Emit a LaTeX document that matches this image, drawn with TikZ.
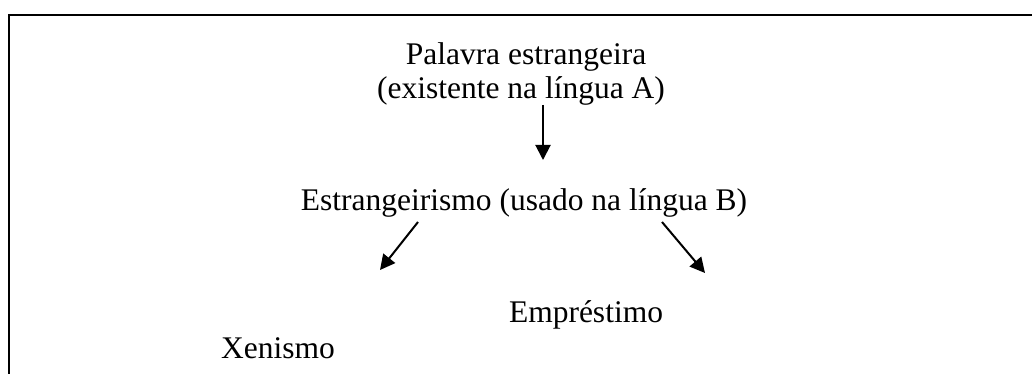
\documentclass[tikz,border=0pt]{standalone}
\usepackage{fontspec}
\setmainfont{Liberation Serif}
\usetikzlibrary{arrows.meta}
\begin{document}
\begin{tikzpicture}[x=1pt,y=-1pt,
  lbl/.style={anchor=base,inner sep=0pt,font=\fontsize{31.5}{35}\selectfont},
  conn/.style={line width=2pt,-{Triangle[length=15pt,width=15pt]}},
  frame/.style={line width=2.2pt}]
\useasboundingbox (0,0) rectangle (1032,374);
\draw[frame] (9,374) -- (9,15) -- (1032,15);
\node[lbl] (p1) at (526,65) {Palavra estrangeira};
\node[lbl] (p2) at (521,99) {(existente na língua A)};
\node[lbl] (est) at (524,210) {Estrangeirismo (usado na língua B)};
\node[lbl] (emp) at (586,322) {Empréstimo};
\node[lbl] (xen) at (278,358) {Xenismo};
\coordinate (a1s) at (543,105);
\coordinate (a1e) at (543,160);
\coordinate (a2s) at (418,222);
\coordinate (a2e) at (380,270);
\coordinate (a3s) at (662,222);
\coordinate (a3e) at (705,273);
\draw[conn] (a1s) -- (a1e);
\draw[conn] (a2s) -- (a2e);
\draw[conn] (a3s) -- (a3e);
\end{tikzpicture}
\end{document}
